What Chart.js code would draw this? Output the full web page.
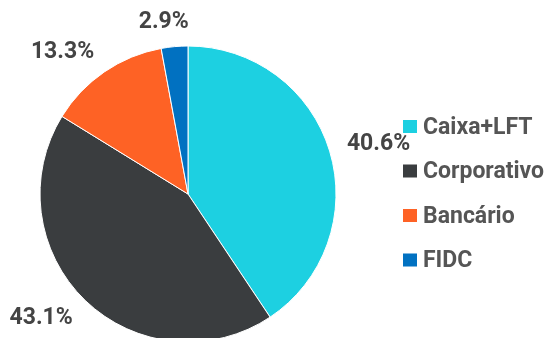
<!DOCTYPE html>
<html>
<head>
<meta charset="utf-8">
<script src="https://cdn.jsdelivr.net/npm/chart.js@4/dist/chart.umd.min.js"></script>
<style>
    html, body { margin: 0; padding: 0; background: #fff; }
    #wrap { width: 550px; height: 338px; position: relative; }
</style>
</head>
<body>
<div id="wrap"><canvas id="pieChart"></canvas></div>
<script>
// Chart data
const categories = ['Caixa+LFT', 'Corporativo', 'Bancário', 'FIDC'];
const shares = [40.6, 43.1, 13.3, 2.9];
const sliceColors = ['#1dd0e1', '#3a3d3f', '#fe6225', '#0171c1'];

const labelFont = 'bold 23px Roboto';
const legendFont = 'bold 23px Roboto';

// Percent labels outside each slice
const outsideLabels = {
    id: 'outsideLabels',
    afterDatasetsDraw(chart) {
        const ctx = chart.ctx;
        const meta = chart.getDatasetMeta(0);
        ctx.save();
        ctx.font = labelFont;
        ctx.fillStyle = '#444444';
        ctx.textAlign = 'center';
        ctx.textBaseline = 'middle';
        meta.data.forEach((arc, i) => {
            const p = arc.getProps(['x', 'y', 'startAngle', 'endAngle', 'outerRadius'], true);
            const mid = (p.startAngle + p.endAngle) / 2;
            const dx = Math.cos(mid), dy = Math.sin(mid);
            const text = shares[i].toFixed(1) + '%';
            const w = ctx.measureText(text).width;
            const r = p.outerRadius + 18;
            // push the text box away from the pie, less so near the vertical
            const x = p.x + dx * r + Math.sign(dx) * (w / 2) * Math.min(1, Math.abs(dx) * 4);
            const y = p.y + dy * r + dy * 6;
            ctx.fillText(text, x, y);
        });
        ctx.restore();
    }
};

// Legend on the right
const sideLegend = {
    id: 'sideLegend',
    afterDraw(chart) {
        const ctx = chart.ctx;
        ctx.save();
        ctx.font = legendFont;
        ctx.textBaseline = 'middle';
        categories.forEach((name, i) => {
            const y = 127 + i * 44.5;
            ctx.fillStyle = sliceColors[i];
            ctx.fillRect(403, y - 7, 14, 13);
            ctx.fillStyle = '#555555';
            ctx.fillText(name, 423, y + 1);
        });
        ctx.restore();
    }
};

new Chart(document.getElementById('pieChart'), {
    type: 'pie',
    data: {
        labels: categories,
        datasets: [{
            data: shares,
            backgroundColor: sliceColors,
            borderColor: '#ffffff',
            borderWidth: 1
        }]
    },
    options: {
        responsive: true,
        maintainAspectRatio: false,
        animation: false,
        radius: 148,
        layout: {
            padding: { left: 40, right: 214, top: 50, bottom: 0 }
        },
        plugins: {
            legend: { display: false },
            tooltip: { enabled: false }
        }
    },
    plugins: [outsideLabels, sideLegend]
});
</script>
</body>
</html>
